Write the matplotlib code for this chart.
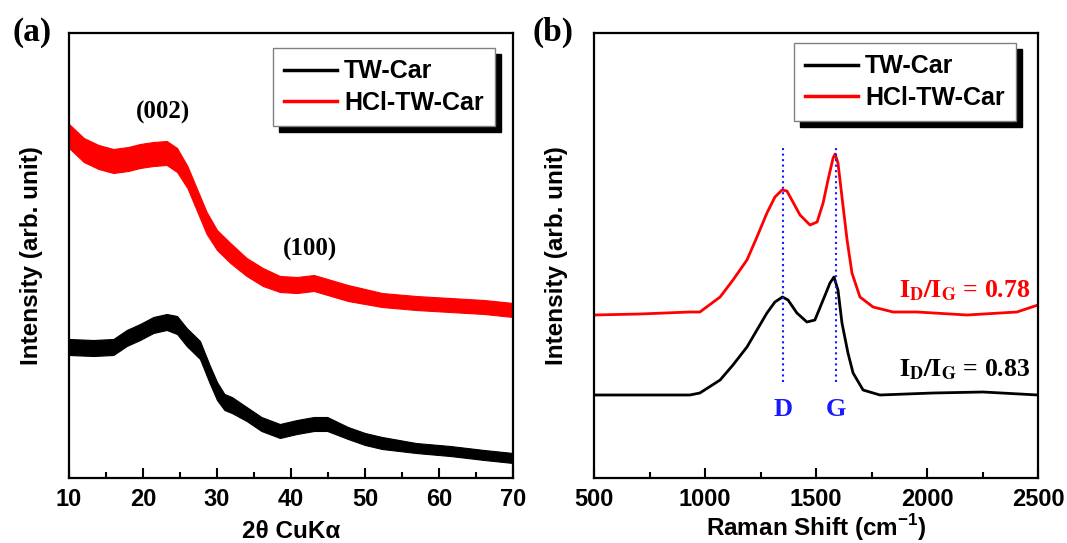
import numpy as np
import matplotlib.pyplot as plt
from matplotlib.patches import Rectangle
from matplotlib.ticker import MultipleLocator

plt.rcParams['font.family'] = ['Liberation Sans', 'DejaVu Sans']
plt.rcParams['font.weight'] = 'bold'
plt.rcParams['axes.labelweight'] = 'bold'
plt.rcParams['mathtext.fontset'] = 'custom'
plt.rcParams['mathtext.rm'] = 'Liberation Sans:bold'
plt.rcParams['mathtext.bf'] = 'Liberation Sans:bold'

# (a) XRD, valores (intensidad arbitraria) y semiancho del ruido
xrd_red_x = [10, 12, 14, 16, 18, 19.6, 21.4, 23.2, 24.6, 26, 27.3, 28.6, 30, 31.8,
             34, 36.2, 38.5, 40.8, 43.1, 45.4, 47.7, 52.3, 56.9, 61.5, 66.1, 70]
xrd_red_y = [342, 328, 321, 317, 319, 322, 324, 325, 318, 301, 278, 255, 238, 225,
             211, 201, 194, 193, 195, 190, 185, 178, 175, 173, 171, 168]
xrd_red_w = [12, 12, 12, 12, 12, 12, 12, 12, 12, 11, 11, 11, 10, 10,
             9, 9, 8, 8, 8, 8, 8, 7, 7, 7, 7, 7]

xrd_blk_x = [10, 13.3, 16, 17.8, 19.6, 21.4, 23.2, 24.6, 25.9, 27.7, 29, 30, 31, 32,
             34, 36, 38.5, 40.8, 43.1, 44.9, 47.7, 50, 52.3, 56.9, 61.5, 66.1, 70]
xrd_blk_y = [131, 130, 131, 140, 146, 153, 156, 153, 141, 128, 104, 87, 76, 73,
             64, 54, 47, 51, 54, 54, 45, 39, 35, 30, 27, 23, 20]
xrd_blk_w = [8, 8, 8, 8, 8, 8, 8, 9, 9, 9, 9, 9, 8, 8,
             7, 7, 7, 7, 7, 7, 6, 6, 6, 5, 5, 5, 5]

# (b) Raman
ram_red_x = [500, 707, 932, 977, 1068, 1126, 1189, 1234, 1279, 1315, 1347, 1369,
             1396, 1428, 1473, 1505, 1532, 1554, 1577, 1586, 1599, 1617, 1640,
             1662, 1698, 1757, 1847, 1955, 2180, 2405, 2500]
ram_red_y = [163, 164, 166, 166, 181, 198, 218, 241, 265, 281, 288, 287,
             276, 263, 253, 256, 275, 298, 320, 324, 315, 281, 238,
             205, 181, 171, 166, 166, 163, 166, 173]

ram_blk_x = [500, 932, 977, 1068, 1126, 1189, 1234, 1279, 1315, 1349, 1374, 1414,
             1459, 1495, 1532, 1563, 1581, 1599, 1617, 1644, 1667, 1712, 1788,
             2027, 2252, 2500]
ram_blk_y = [83, 83, 85, 98, 113, 131, 148, 165, 176, 181, 178, 165,
             156, 158, 178, 195, 201, 188, 155, 125, 105, 88, 83,
             85, 86, 83]

peak_x = [1350, 1590]
peak_lbl = ['D', 'G']
labels = ['TW-Car', 'HCl-TW-Car']
ratios = ['0.78', '0.83']

W, H = 1067, 543
ROJO = '#ff0000'
AZUL = '#1a1aff'
fig = plt.figure(figsize=(W / 100, H / 100), dpi=100)
axa = fig.add_axes([69 / W, 1 - 478 / H, 444 / W, 445 / H])
axb = fig.add_axes([594 / W, 1 - 478 / H, 444 / W, 445 / H])


def estilo(ax):
    for s in ax.spines.values():
        s.set_linewidth(1.6)
    ax.tick_params(axis='x', which='both', direction='in', top=False, width=1.5,
                   labelsize=17, pad=7)
    ax.tick_params(axis='x', which='major', length=7)
    ax.tick_params(axis='x', which='minor', length=4)
    ax.tick_params(axis='y', left=False, labelleft=False)
    ax.set_ylim(0, 445)
    ax.set_ylabel('Intensity (arb. unit)', fontsize=17.5, labelpad=19)


# ---- (a)
xa, ya, wa = map(np.array, (xrd_blk_x, xrd_blk_y, xrd_blk_w))
axa.fill_between(xa, ya - wa, ya + wa, color='k', lw=0.8)
xr, yr, wr = map(np.array, (xrd_red_x, xrd_red_y, xrd_red_w))
axa.fill_between(xr, yr - wr, yr + wr, color=ROJO, lw=0.8)
axa.set_xlim(10, 70)
axa.xaxis.set_major_locator(MultipleLocator(10))
axa.xaxis.set_minor_locator(MultipleLocator(5))
estilo(axa)
axa.set_xlabel('2θ CuKα', fontsize=17.5, labelpad=7)
axa.text(22.7, 366, '(002)', family='Liberation Serif', fontsize=18, ha='center', va='center')
axa.text(42.5, 229, '(100)', family='Liberation Serif', fontsize=18, ha='center', va='center')

# ---- (b)
axb.plot(ram_blk_x, ram_blk_y, color='k', lw=2)
axb.plot(ram_red_x, ram_red_y, color=ROJO, lw=2)
for px, pl in zip(peak_x, peak_lbl):
    axb.plot([px, px], [96, 333], color=AZUL, ls=':', lw=1.5)
    axb.text(px, 69, pl, family='Liberation Serif', color=AZUL, fontsize=19,
             ha='center', va='center')
for yy, rr, cc in [(187, ratios[0], ROJO), (108, ratios[1], 'k')]:
    axb.text(2170, yy, r'$\mathbf{I_D/I_G}$ = ' + rr, family='Liberation Serif', color=cc,
             fontsize=18.5, ha='center', va='center', math_fontfamily='stix')
axb.set_xlim(500, 2500)
axb.xaxis.set_major_locator(MultipleLocator(500))
axb.xaxis.set_minor_locator(MultipleLocator(250))
estilo(axb)
axb.set_xlabel(r'Raman Shift (cm$^{-1}$)', fontsize=17.5, labelpad=1)

# leyendas con sombra negra desplazada
leyendas = []
for ax, (xr_, yt_) in [(axa, (495, 48)), (axb, (1016, 43))]:
    h = [plt.Line2D([], [], color='k', lw=2.5), plt.Line2D([], [], color=ROJO, lw=2.5)]
    leg = ax.legend(h, labels, loc='upper right', bbox_to_anchor=(xr_ / W, 1 - yt_ / H),
                    bbox_transform=fig.transFigure, borderaxespad=0, fancybox=False,
                    framealpha=1, edgecolor='#808080', fontsize=18, handlelength=2.1,
                    handletextpad=0.3, borderpad=0.45, labelspacing=0.3)
    leg.get_frame().set_linewidth(1)
    leyendas.append((ax, leg))

fig.canvas.draw()
for ax, leg in leyendas:
    bb = leg.get_window_extent().transformed(fig.transFigure.inverted())
    ax.add_patch(Rectangle((bb.x0 + 6 / W, bb.y0 - 6 / H), bb.width, bb.height,
                           transform=fig.transFigure, color='k', clip_on=False,
                           zorder=4.9))

fig.text(12 / W, 1 - 32 / H, '(a)', family='Liberation Serif', fontsize=24, va='center')
fig.text(533 / W, 1 - 32 / H, '(b)', family='Liberation Serif', fontsize=24, va='center')

fig.savefig('out.png', dpi=100)
